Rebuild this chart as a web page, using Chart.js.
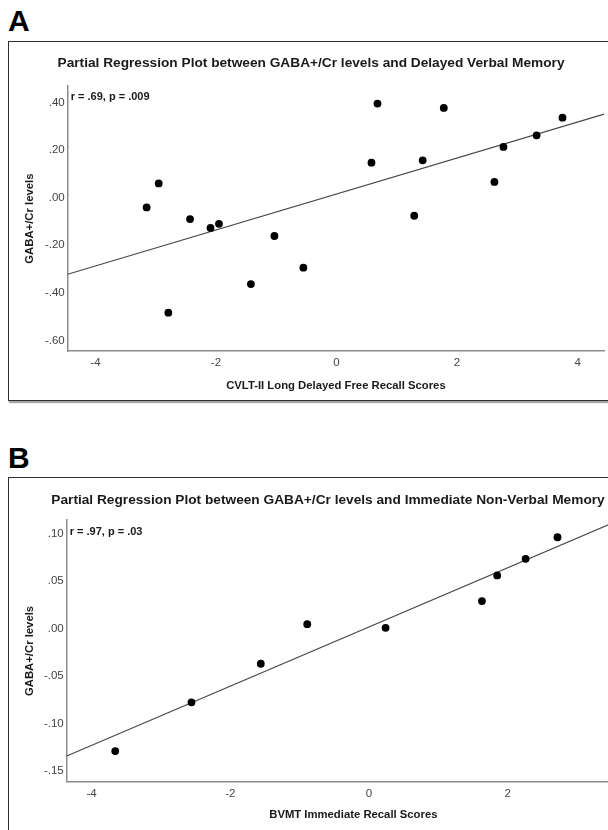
<!DOCTYPE html>
<html>
<head>
<meta charset="utf-8">
<script src="https://cdn.jsdelivr.net/npm/chart.js@4.4.1/dist/chart.umd.min.js"></script>
<style>
  html, body { margin: 0; padding: 0; background: #fff; }
  body { width: 608px; height: 830px; overflow: hidden; position: relative; font-family: "Liberation Sans", Arial, sans-serif; }
  .frame { position: absolute; border: 1.6px solid #2e2e2e; box-shadow: 1px 2px 1px rgba(0,0,0,0.35); background: #fff; }
  .letter { position: absolute; font-size: 30px; line-height: 30px; font-weight: bold; color: #000; }
  canvas { position: absolute; }
</style>
</head>
<body>
<div class="letter" style="left:8px; top:6.3px;">A</div>
<div class="frame" style="left:8px; top:40.5px; width:700px; height:358px;"></div>
<canvas id="chartA" width="608" height="400" style="left:0; top:0; width:608px; height:400px;"></canvas>

<div class="letter" style="left:8px; top:442.9px;">B</div>
<div class="frame" style="left:8px; top:476.5px; width:700px; height:420px;"></div>
<canvas id="chartB" width="656" height="420" style="left:0; top:410px; width:656px; height:420px;"></canvas>

<script>
// ---------------- Data: panel A ----------------
const titleA = 'Partial Regression Plot between GABA+/Cr levels and Delayed Verbal Memory';
const statsA = 'r = .69, p = .009';
const xLabelA = 'CVLT-II Long Delayed Free Recall Scores';
const yLabelA = 'GABA+/Cr levels';
const cvltScores = [0.68, 1.78, 3.75, 3.32, 2.77, 0.58, 1.43, 2.62, -2.95, -3.15, -2.43, -2.09, -1.95, 1.29, -1.03, -0.55, -1.42, -2.79];
const gabaA      = [0.395, 0.377, 0.336, 0.262, 0.213, 0.147, 0.157, 0.066, 0.060, -0.041, -0.090, -0.127, -0.110, -0.076, -0.161, -0.294, -0.363, -0.483];
const xTicksA = [-4, -2, 0, 2, 4];
const yTicksA = [-0.60, -0.40, -0.20, 0.00, 0.20, 0.40];
const xRangeA = [-4.46, 4.44];
const yRangeA = [-0.644, 0.468];

// ---------------- Data: panel B ----------------
const titleB = 'Partial Regression Plot between GABA+/Cr levels and Immediate Non-Verbal Memory';
const statsB = 'r = .97, p = .03';
const xLabelB = 'BVMT Immediate Recall Scores';
const yLabelB = 'GABA+/Cr levels';
const bvmtScores = [2.72, 2.26, 1.85, 1.63, -0.89, 0.24, -1.56, -2.56, -3.66];
const gabaB      = [0.0963, 0.0735, 0.056, 0.029, 0.0047, 0.0008, -0.037, -0.0777, -0.129];
const xTicksB = [-4, -2, 0, 2];
const yTicksB = [-0.15, -0.10, -0.05, 0.00, 0.05, 0.10];
const xRangeB = [-4.36, 3.91];
const yRangeB = [-0.1613, 0.1142];

// ---------------- helpers ----------------
const FONT = '"Liberation Sans", Arial, sans-serif';

function fitLine(xs, ys) {
  const n = xs.length;
  const mx = xs.reduce((a, b) => a + b, 0) / n;
  const my = ys.reduce((a, b) => a + b, 0) / n;
  let sxy = 0, sxx = 0;
  for (let i = 0; i < n; i++) { sxy += (xs[i] - mx) * (ys[i] - my); sxx += (xs[i] - mx) ** 2; }
  const slope = sxy / sxx;
  return { slope, intercept: my - slope * mx };
}

function fmtY(v) {
  const s = Math.abs(v).toFixed(2).replace(/^0/, '');
  return (v < -1e-9 ? '-' : '') + s;
}

const statsPlugin = {
  id: 'stats',
  afterDatasetsDraw(chart, args, opts) {
    const { ctx, chartArea } = chart;
    ctx.save();
    ctx.font = 'bold 11px ' + FONT;
    ctx.fillStyle = '#1a1a1a';
    ctx.textBaseline = 'middle';
    ctx.textAlign = 'left';
    ctx.fillText(opts.text, chartArea.left + 3, chartArea.top + opts.dy);
    ctx.restore();
  }
};

function makeChart(id, cfg) {
  const pts = cfg.xs.map((x, i) => ({ x, y: cfg.ys[i] }));
  const f = fitLine(cfg.xs, cfg.ys);
  const linePts = cfg.xRange.map(x => ({ x, y: f.intercept + f.slope * x }));
  return new Chart(document.getElementById(id), {
    type: 'scatter',
    data: {
      datasets: [
        { type: 'line', data: linePts, borderColor: '#4a4a4a', borderWidth: 1.2, pointRadius: 0, fill: false, order: 2 },
        { data: pts, backgroundColor: '#000', borderColor: '#000', borderWidth: 0, pointRadius: 3.9, pointHoverRadius: 3.9, order: 1 }
      ]
    },
    options: {
      responsive: false,
      animation: false,
      devicePixelRatio: 1,
      layout: { padding: { left: 16, right: cfg.padRight, top: 0, bottom: 0 } },
      plugins: {
        legend: { display: false },
        tooltip: { enabled: false },
        title: {
          display: true, text: cfg.title, color: '#1a1a1a',
          font: { family: FONT, size: 13.7, weight: 'bold', lineHeight: 1.2 },
          padding: { top: cfg.titleTop, bottom: cfg.titleBottom }
        },
        stats: { text: cfg.stats, dy: cfg.statsDy }
      },
      scales: {
        x: {
          type: 'linear', min: cfg.xRange[0], max: cfg.xRange[1],
          grid: { display: false, drawTicks: false },
          border: { display: true, color: '#8c8c8c', width: 1.5 },
          ticks: { color: '#444', font: { family: FONT, size: 11.5 }, padding: 5, callback: v => String(v) },
          title: { display: true, text: cfg.xLabel, color: '#1a1a1a', font: { family: FONT, size: 11.3, weight: 'bold', lineHeight: 1.2 }, padding: { top: 0, bottom: cfg.xTitlePad } },
          afterBuildTicks(s) { s.ticks = cfg.xTicks.map(v => ({ value: v })); },
          afterFit(s) { s.height = cfg.xH; }
        },
        y: {
          type: 'linear', min: cfg.yRange[0], max: cfg.yRange[1],
          grid: { display: false, drawTicks: false },
          border: { display: true, color: '#8c8c8c', width: 1.5 },
          ticks: { color: '#444', font: { family: FONT, size: 11.5 }, padding: 3, callback: v => fmtY(v) },
          title: { display: true, text: cfg.yLabel, color: '#1a1a1a', font: { family: FONT, size: 11.3, weight: 'bold', lineHeight: 1.2 }, padding: { top: 7.2, bottom: 0 } },
          afterBuildTicks(s) { s.ticks = cfg.yTicks.map(v => ({ value: v })); },
          afterFit(s) { s.width = cfg.yW; }
        }
      }
    },
    plugins: [statsPlugin]
  });
}

makeChart('chartA', {
  xs: cvltScores, ys: gabaA, xRange: xRangeA, yRange: yRangeA, xTicks: xTicksA, yTicks: yTicksA,
  title: titleA, stats: statsA, xLabel: xLabelA, yLabel: yLabelA,
  padRight: 2, titleTop: 54.6, titleBottom: 15.2, xH: 49, xTitlePad: 7.2, yW: 51.7, statsDy: 11
});

makeChart('chartB', {
  xs: bvmtScores, ys: gabaB, xRange: xRangeB, yRange: yRangeB, xTicks: xTicksB, yTicks: yTicksB,
  title: titleB, stats: statsB, xLabel: xLabelB, yLabel: yLabelB,
  padRight: 16, titleTop: 81.9, titleBottom: 11.9, xH: 48.3, xTitlePad: 8.2, yW: 50.7, statsDy: 11.7
});
</script>
</body>
</html>
